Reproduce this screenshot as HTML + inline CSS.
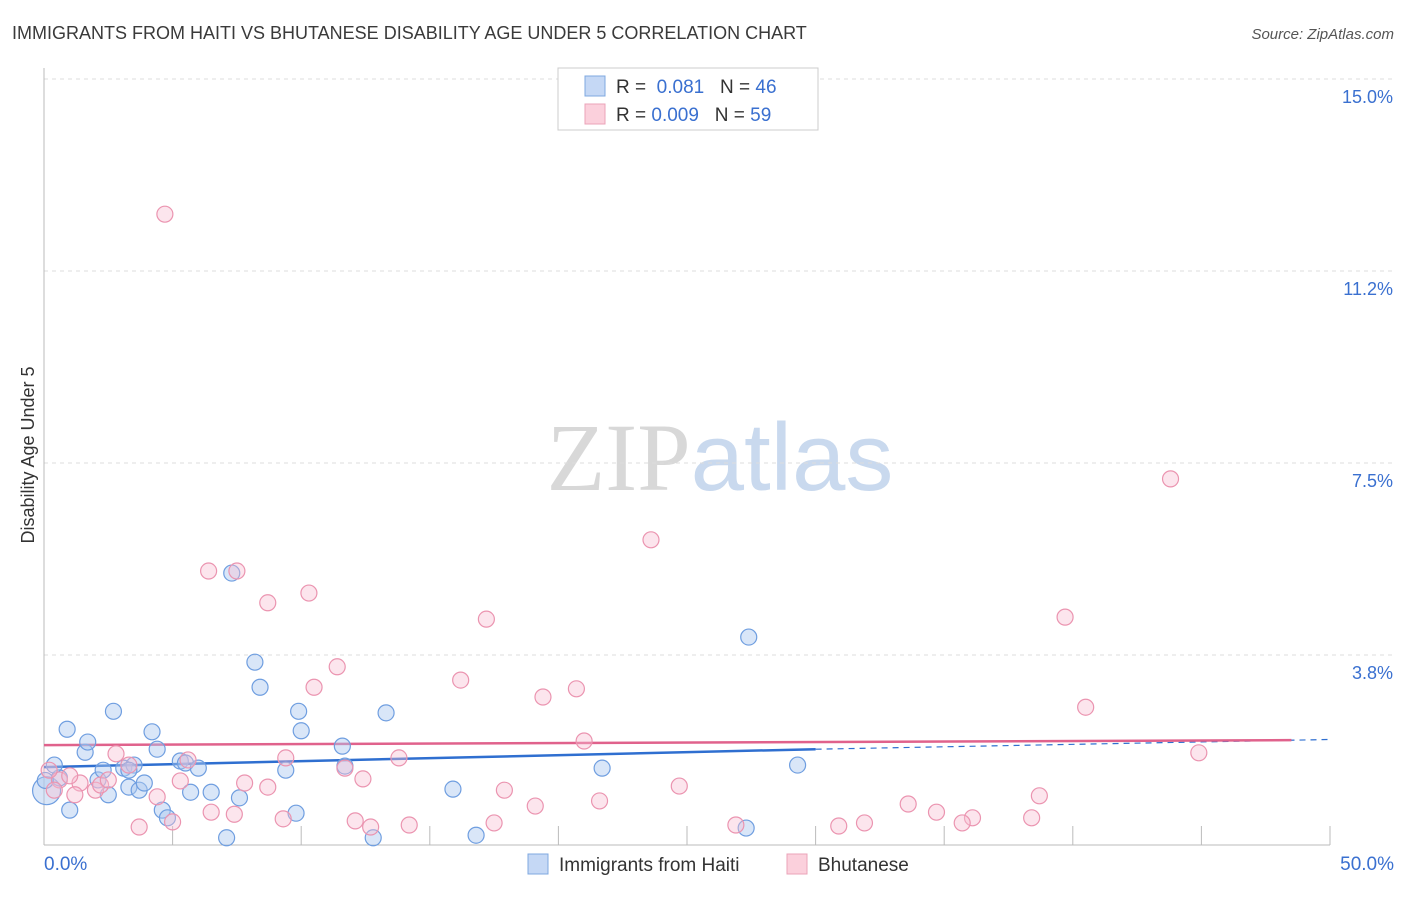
<!DOCTYPE html>
<html><head><meta charset="utf-8"><style>
body{margin:0;background:#fff;font-family:"Liberation Sans",sans-serif;}
svg text{font-family:"Liberation Sans",sans-serif;}
</style></head><body>
<svg id="chart" width="1406" height="892" xmlns="http://www.w3.org/2000/svg">
<text x="12" y="39" font-size="18" fill="#3a3a3a">IMMIGRANTS FROM HAITI VS BHUTANESE DISABILITY AGE UNDER 5 CORRELATION CHART</text>
<text x="1394" y="39" font-size="15" fill="#555" text-anchor="end" font-style="italic">Source: ZipAtlas.com</text>
<text x="720" y="490" font-size="96" text-anchor="middle"><tspan fill="#d8d8d8" font-family="Liberation Serif">ZIP</tspan><tspan fill="#c9d9ee">atlas</tspan></text>
<text transform="translate(34,455) rotate(-90)" font-size="18" fill="#333" text-anchor="middle">Disability Age Under 5</text>
<g id="grid"></g><g id="axes"></g><g id="trends"></g><g id="pts"></g>
<g>
<rect x="558" y="68" width="260" height="62" fill="#fff" stroke="#ccc"/>
<rect x="585" y="76" width="20" height="20" fill="#c5d8f5" stroke="#7fa8e0"/>
<rect x="585" y="104" width="20" height="20" fill="#fbd0dc" stroke="#eba3b8"/>
<text x="616" y="93" font-size="19" fill="#333">R = <tspan fill="#3a70d0">&#160;0.081</tspan>&#160;&#160;&#160;N = <tspan fill="#3a70d0">46</tspan></text>
<text x="616" y="121" font-size="19" fill="#333">R = <tspan fill="#3a70d0">0.009</tspan>&#160;&#160;&#160;N = <tspan fill="#3a70d0">59</tspan></text>
</g>
<g>
<rect x="528" y="854" width="20" height="20" fill="#c5d8f5" stroke="#7fa8e0"/>
<text x="559" y="871" font-size="19" fill="#333">Immigrants from Haiti</text>
<rect x="787" y="854" width="20" height="20" fill="#fbd0dc" stroke="#eba3b8"/>
<text x="818" y="871" font-size="19" fill="#333">Bhutanese</text>
</g>
</svg>
<script>
const yTicks=[3.8,7.5,11.2,15.0];
const yTickVals=[3.75,7.5,11.25,15];
const xTickLabels=["0.0%","50.0%"];
const haitiX=[0.1,0.9,1.0,1.6,1.7,2.1,2.3,2.5,2.7,3.1,3.3,3.5,3.7,3.9,4.2,4.4,4.6,4.8,5.3,5.5,5.7,6.0,6.5,7.1,7.3,7.6,8.2,8.4,9.4,9.8,9.9,10.0,11.6,11.7,12.8,13.3,15.9,16.8,21.7,27.3,27.4,29.3,0.6,0.4,3.3,0.05];
const haitiY=[1.1,2.3,0.72,1.85,2.05,1.31,1.5,1.02,2.65,1.54,1.17,1.6,1.11,1.25,2.25,1.91,0.72,0.57,1.68,1.64,1.07,1.54,1.07,0.18,5.35,0.96,3.61,3.12,1.5,0.66,2.65,2.27,1.97,1.58,0.18,2.62,1.13,0.23,1.54,0.37,4.1,1.6,1.35,1.6,1.5,1.3];
const bhutX=[4.7,43.8,23.6,6.4,7.5,10.3,8.7,17.2,39.7,11.4,16.2,10.5,20.7,19.4,40.5,21.0,44.9,9.4,13.8,5.6,2.8,3.3,11.7,12.4,7.8,5.3,8.7,17.9,24.7,38.7,33.6,21.6,4.4,19.1,34.7,6.5,7.4,36.1,38.4,9.3,12.1,3.7,5.0,12.7,14.2,17.5,26.9,30.9,31.9,35.7,2.0,1.4,0.6,0.2,1.0,2.2,2.5,0.4,1.2];
const bhutY=[12.36,7.19,6.0,5.39,5.39,4.96,4.77,4.45,4.49,3.52,3.26,3.12,3.09,2.93,2.73,2.07,1.84,1.74,1.74,1.70,1.82,1.60,1.54,1.33,1.25,1.29,1.17,1.11,1.19,1.0,0.84,0.9,0.98,0.8,0.68,0.68,0.64,0.57,0.57,0.55,0.51,0.39,0.49,0.39,0.43,0.47,0.43,0.41,0.47,0.47,1.11,1.25,1.31,1.5,1.39,1.21,1.31,1.11,1.02];
const haitiTrend=[1.56,1.91,2.1];
const bhutTrend=[1.99,2.09];
const NS="http://www.w3.org/2000/svg";
const X0=44,X1=1330,Y0=847,PXPER=51.2;
const sx=v=>X0+(X1-X0)*v/50, sy=v=>Y0-v*PXPER;
function mk(tag,attrs,parent){const e=document.createElementNS(NS,tag);for(const k in attrs)e.setAttribute(k,attrs[k]);document.getElementById(parent).appendChild(e);return e;}
yTickVals.forEach((v,i)=>{
 const l=mk('line',{x1:X0,x2:1394,y1:sy(v),y2:sy(v),stroke:'#ddd','stroke-dasharray':'4,4'},'grid');
 
 
 const t=mk('text',{x:1393,y:sy(v)+24,'font-size':18,fill:'#3a70d0','text-anchor':'end'},'grid');
 t.textContent=yTicks[i].toFixed(1)+'%';
 
 
});
const ax=mk('line',{x1:X0,x2:X0,y1:68,y2:845,stroke:'#bbb'},'axes');


const bx=mk('line',{x1:X0,x2:X1,y1:845,y2:845,stroke:'#bbb'},'axes');


for(let i=0;i<=10;i++){const tk=mk('line',{x1:sx(i*5),x2:sx(i*5),y1:826,y2:845,stroke:'#bbb'},'axes');
 
 }
[[0,'start',44],[50,'end',1394]].forEach((d,i)=>{const t=mk('text',{x:d[2],y:870,'font-size':19,fill:'#3a70d0','text-anchor':d[1]},'axes');t.textContent=xTickLabels[i];
 
 });
haitiX.forEach((x,i)=>{const c=mk('circle',{cx:sx(x),cy:sy(haitiY[i]),r:i==0?14:8,fill:'rgba(170,200,240,0.45)',stroke:'#6f9ee0','stroke-width':1.2},'pts');
 
 });
bhutX.forEach((x,i)=>{const c=mk('circle',{cx:sx(x),cy:sy(bhutY[i]),r:8,fill:'rgba(248,190,210,0.4)',stroke:'#eb94b0','stroke-width':1.2},'pts');
 
 });
let t1=mk('line',{x1:sx(0),y1:sy(haitiTrend[0]),x2:sx(30),y2:sy(haitiTrend[1]),stroke:'#2f6fd0','stroke-width':2.5},'trends');


let t2=mk('line',{x1:sx(30),y1:sy(haitiTrend[1]),x2:sx(50),y2:sy(haitiTrend[2]),stroke:'#2f6fd0','stroke-width':1.2,'stroke-dasharray':'6,5'},'trends');


let t3=mk('line',{x1:sx(0),y1:sy(bhutTrend[0]),x2:sx(48.5),y2:sy(bhutTrend[0]+(bhutTrend[1]-bhutTrend[0])*0.97),stroke:'#e0628c','stroke-width':2.5},'trends');


</script>
</body></html>
